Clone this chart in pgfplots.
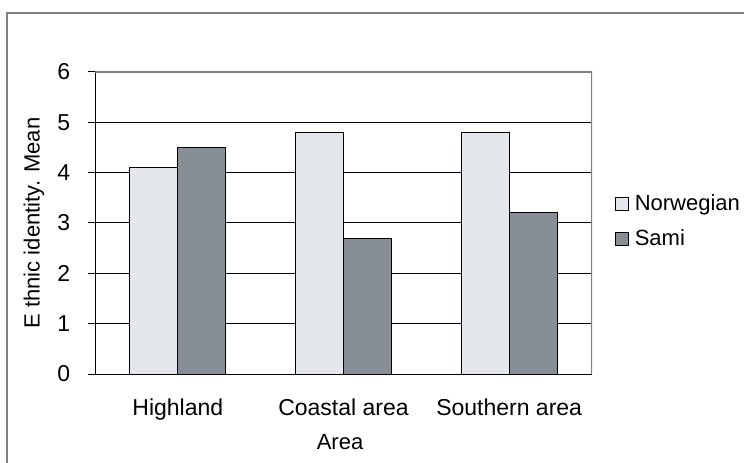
\documentclass[border=0pt]{standalone}
\usepackage{fontspec}
\setmainfont{Liberation Sans}
\usepackage{pgfplots}
\pgfplotsset{compat=1.18}

\definecolor{norw}{HTML}{E4E7EC}
\definecolor{sami}{HTML}{878E95}
\definecolor{frame}{HTML}{808080}

\begin{document}
\fontsize{11bp}{13bp}\selectfont
\begin{tikzpicture}
% page is 744x463 px at 0.5bp per px
\path[use as bounding box] (0,0) rectangle (372bp,231.5bp);
\draw[frame, line width=0.6bp] (3.5bp,-5bp) -- (3.5bp,225bp) -- (380bp,225bp);
\begin{axis}[
  at={(47.5bp,44.5bp)}, anchor=south west,
  scale only axis,
  width=248.5bp, height=151bp,
  ybar=0pt,
  bar width=24bp,
  xmin=-0.5, xmax=2.5,
  ymin=0, ymax=6,
  ytick={0,...,6},
  xtick={0,1,2},
  xticklabels={Highland, Coastal area, Southern area},
  extra x ticks={-0.5,0.5,1.5,2.5},
  extra x tick labels={},
  extra x tick style={major tick length=3.5bp, tick style={black}},
  major x tick style={draw=none},
  tick align=outside,
  major tick length=3.5bp,
  tick style={black, line width=0.5bp},
  axis x line*=bottom, axis y line*=left,
  axis line style={black, line width=0.5bp, -},
  ymajorgrids,
  grid style={black, line width=0.5bp},
  xticklabel style={yshift=-5bp, font=\fontsize{11.5bp}{13bp}\selectfont},
  yticklabel style={xshift=-5bp, font=\fontsize{11.5bp}{13bp}\selectfont},
  /pgf/number format/assume math mode=true,
  xlabel={Area},
  ylabel={E thnic identity. Mean},
  every axis x label/.style={at={(axis description cs:0.493,-0.225)}, anchor=center},
  every axis y label/.style={at={(axis description cs:-0.123,0.5)}, rotate=90, anchor=center},
  legend style={draw=none, at={(axis description cs:1.045,0.609)}, anchor=north west,
    row sep=4bp, inner sep=0pt, legend cell align=left,
    nodes={inner xsep=3bp}, font=\fontsize{11bp}{13bp}\selectfont},
  legend image code/.code={\draw[#1, line width=0.5bp] (0bp,-3.25bp) rectangle (6.5bp,3.25bp);},
]
\addplot[fill=norw, draw=black, line width=0.5bp] coordinates {(0,4.1) (1,4.8) (2,4.8)};
\addlegendentry{Norwegian}
\addplot[fill=sami, draw=black, line width=0.5bp] coordinates {(0,4.5) (1,2.7) (2,3.2)};
\addlegendentry{Sami}
\draw[frame, line width=0.6bp] (rel axis cs:0,1) -- (rel axis cs:1,1) -- (rel axis cs:1,0);
\end{axis}
\end{tikzpicture}
\end{document}
